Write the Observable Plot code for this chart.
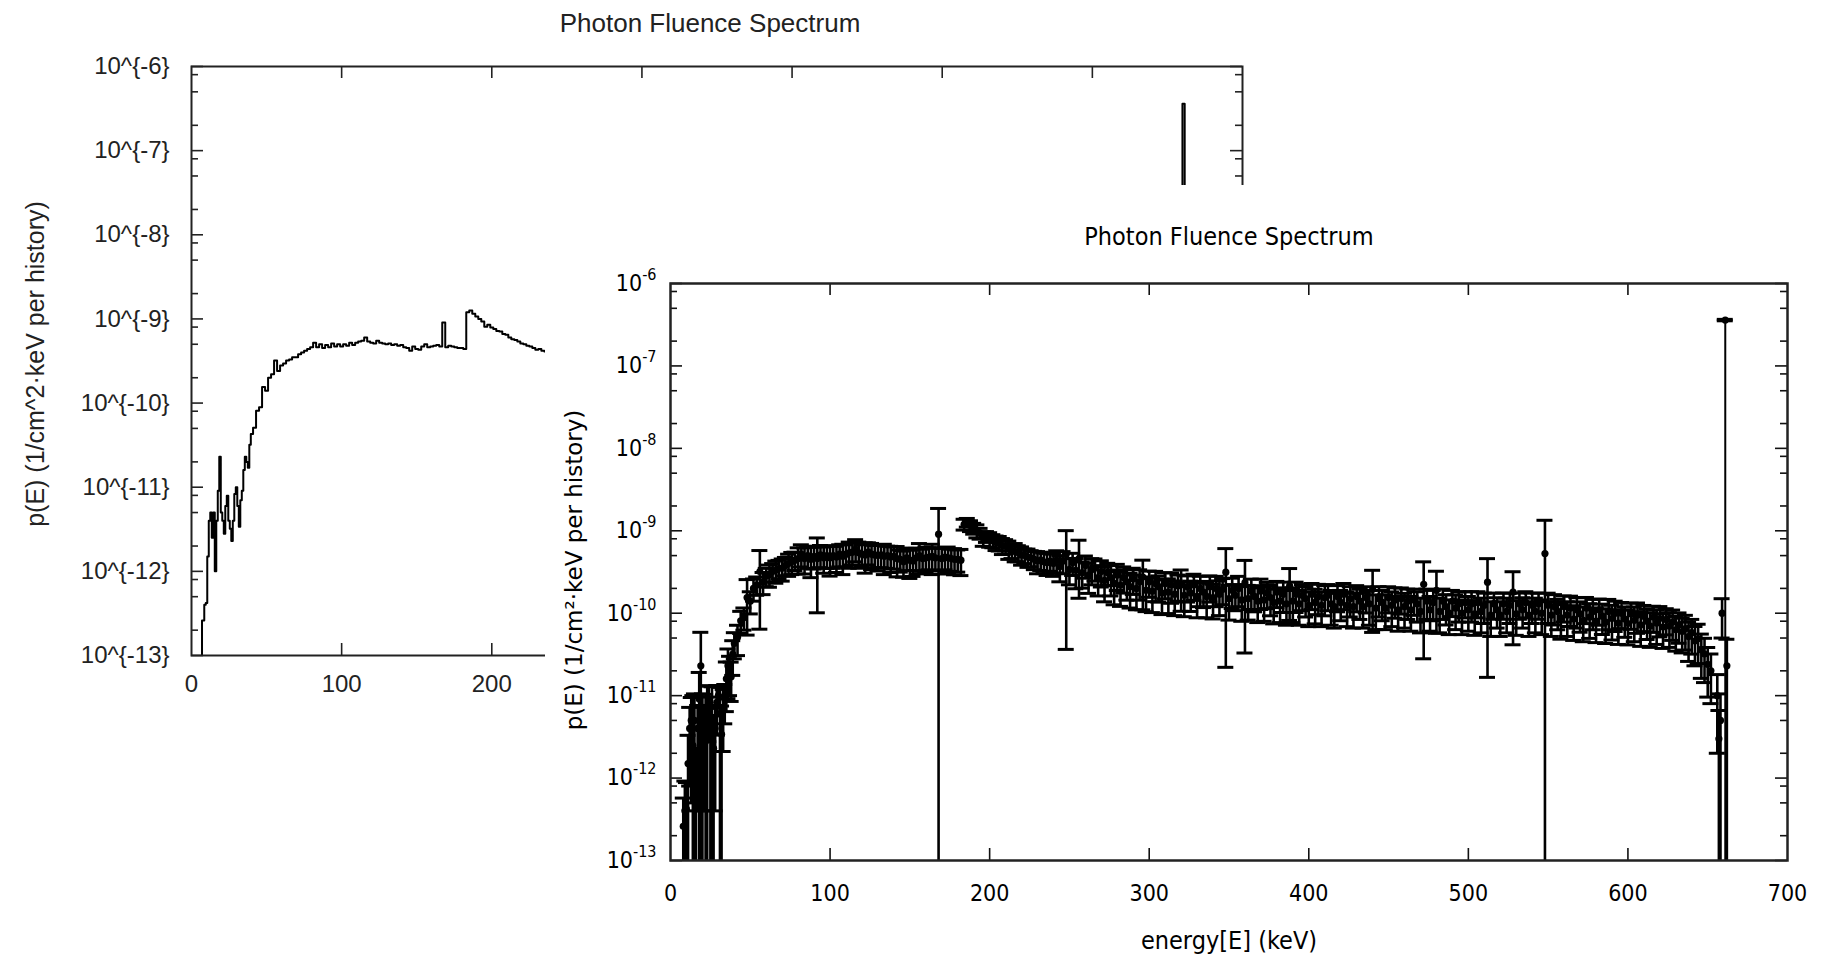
<!DOCTYPE html>
<html><head><meta charset="utf-8">
<script src="https://cdn.jsdelivr.net/npm/d3@7"></script>
<script src="https://cdn.jsdelivr.net/npm/@observablehq/plot@0.6"></script>
<style>
html,body{margin:0;padding:0;background:#fff;}
#stage{position:relative;width:1825px;height:958px;overflow:hidden;background:#fff;}
#back{position:absolute;left:0;top:0;}
#front{position:absolute;left:545px;top:185px;width:1280px;height:773px;background:#fff;}
#frontPlot{position:absolute;left:0;top:0;}
.t{position:absolute;white-space:nowrap;line-height:1;transform:translate(-50%,-50%);}
.rot{transform:translate(-50%,-50%) rotate(-90deg);}
.lib{font-family:'Liberation Sans',Arial,sans-serif;color:#222;}
.dvc{font-family:'DejaVu Sans Condensed','DejaVu Sans',sans-serif;color:#000;}
.dv{font-family:'DejaVu Sans',sans-serif;color:#000;}
</style></head>
<body>
<div id="stage">
  <div id="back"></div>
  <div class="t lib" id="backTitle" style="left:710px;top:23px;font-size:26px;"></div>
  <div class="t rot lib" id="backYLabel" style="left:35px;top:364px;font-size:25px;"></div>
  <div id="front">
    <div id="frontPlot"></div>
    <div class="t dvc" id="frontTitle" style="left:684px;top:51px;font-size:25px;"></div>
    <div class="t dvc" id="frontXLabel" style="left:684px;top:755px;font-size:25px;"></div>
    <div class="t rot dv" id="frontYLabel" style="left:29px;top:385px;font-size:23px;"></div>
  </div>
</div>
<script>
// ---------------- data ----------------
const titleText = "Photon Fluence Spectrum";
const backYLabelText = "p(E) (1/cm^2·keV per history)";
const frontYLabelText = "p(E) (1/cm²·keV per history)";
const frontXLabelText = "energy[E] (keV)";

const xTicks = [0, 100, 200, 300, 400, 500, 600, 700];
const backXTickLabels = [0, 100, 200]; // the rest are hidden behind the front window
const decades = [1e-13, 1e-12, 1e-11, 1e-10, 1e-9, 1e-8, 1e-7, 1e-6];
const backYTickLabels = ["10^{-13}", "10^{-12}", "10^{-11}", "10^{-10}", "10^{-9}", "10^{-8}", "10^{-7}", "10^{-6}"];
const frontYTickExponents = ["-13", "-12", "-11", "-10", "-9", "-8", "-7", "-6"];
const minorTicks = [2e-13, 5e-13, 8e-13, 2e-12, 5e-12, 8e-12, 2e-11, 5e-11, 8e-11,
  2e-10, 5e-10, 8e-10, 2e-9, 5e-9, 8e-9, 2e-8, 5e-8, 8e-8, 2e-7, 5e-7, 8e-7];

// energy bin (keV)
const energy = [6, 8, 9, 10, 11, 12, 13, 14, 15, 16, 17, 18, 19, 20, 21, 22, 23, 24, 25, 26, 27, 28, 29,
  30, 31, 32, 33, 34, 35, 36, 37, 38, 39, 40,
  42, 44, 46, 48, 50,
  52, 54, 56, 58, 60, 62, 64, 66, 68, 70, 72, 74, 76, 78, 80, 82, 84, 86, 88, 90, 92, 94, 96, 98, 100,
  102, 104, 106, 108, 110, 112, 114, 116, 118, 120, 122, 124, 126, 128, 130, 132, 134, 136, 138, 140,
  142, 144, 146, 148, 150, 152, 154, 156, 158, 160, 162, 164, 166, 168, 170, 172, 174, 176, 178, 180,
  182, 184, 186, 188, 190, 192, 194, 196, 198, 200, 202, 204, 206, 208, 210, 212, 214, 216, 218, 220,
  222, 224, 226, 228, 230, 232, 234, 236, 238, 240,
  242, 244, 246, 248, 250, 252, 254, 256, 258, 260, 262, 264, 266, 268, 270, 272, 274, 276, 278, 280,
  282, 284, 286, 288, 290, 292, 294, 296, 298, 300, 302, 304, 306, 308, 310, 312, 314, 316, 318, 320,
  322, 324, 326, 328, 330, 332, 334, 336, 338, 340, 342, 344, 346, 348, 350, 352, 354, 356, 358, 360,
  362, 364, 366, 368, 370, 372, 374, 376, 378, 380, 382, 384, 386, 388, 390, 392, 394, 396, 398, 400,
  402, 404, 406, 408, 410, 412, 414, 416, 418, 420, 422, 424, 426, 428, 430, 432, 434, 436, 438, 440,
  442, 444, 446, 448, 450, 452, 454, 456, 458, 460, 462, 464, 466, 468, 470, 472, 474, 476, 478, 480,
  482, 484, 486, 488, 490, 492, 494, 496, 498, 500, 502, 504, 506, 508, 510, 512, 514, 516, 518, 520,
  522, 524, 526, 528, 530, 532, 534, 536, 538, 540, 542, 544, 546, 548, 550, 552, 554, 556, 558, 560,
  562, 564, 566, 568, 570, 572, 574, 576, 578, 580, 582, 584, 586, 588, 590, 592, 594, 596, 598, 600,
  602, 604, 606, 608, 610, 612, 614, 616, 618, 620, 622, 624, 626, 628, 630, 632, 634, 636, 638, 640,
  642, 644, 646, 648, 650, 652,
  656, 657, 658, 659, 661, 662];

// fluence p(E)
const fluence = [1e-14, 2.6e-13, 4e-13, 4.2e-13, 1.5e-12, 4.0e-12, 5e-12, 2.5e-12, 5e-12, 1.0e-12, 4e-12,
  9.1e-12, 2.3e-11, 5e-12, 4e-12, 2.8e-12, 6e-12, 7.9e-12, 4e-12, 3.2e-12, 2.3e-12, 4e-12, 8.3e-12,
  1.0e-11, 6e-12, 3.4e-12, 7e-12, 9.1e-12, 1.6e-11, 2.3e-11, 2.0e-11, 1.7e-11, 3.2e-11, 4.3e-11,
  5.1e-11, 8.1e-11, 8.9e-11,
  1.55e-10, 1.4e-10, 2.0e-10, 2.2e-10, 3.2e-10, 2.4e-10, 2.8e-10, 2.95e-10, 3.2e-10, 3.3e-10, 3.5e-10,
  3.5e-10, 3.8e-10, 4.0e-10, 4.2e-10, 4.4e-10, 4.6e-10, 5.2e-10, 4.6e-10, 5.0e-10, 4.5e-10, 4.9e-10,
  4.6e-10, 5.1e-10, 4.7e-10, 5.0e-10, 4.7e-10, 5.0e-10, 4.8e-10, 5.2e-10, 4.9e-10, 5.2e-10, 5.4e-10,
  5.5e-10, 6.0e-10, 5.4e-10, 5.2e-10, 5.1e-10, 5.5e-10, 5.2e-10, 5.1e-10, 5.0e-10, 5.1e-10, 4.9e-10,
  5.0e-10, 4.8e-10, 4.9e-10, 4.6e-10, 4.5e-10, 4.2e-10, 4.7e-10, 4.4e-10, 4.3e-10, 4.7e-10, 5.0e-10,
  4.6e-10, 4.7e-10, 4.8e-10, 4.9e-10, 4.7e-10, 9.1e-10, 4.6e-10, 4.8e-10, 4.7e-10, 4.6e-10, 4.5e-10,
  4.5e-10, 4.4e-10, 1.2e-9, 1.26e-9, 1.15e-9, 1.07e-9, 1.0e-9, 9.3e-10, 8.1e-10, 8.5e-10, 7.9e-10,
  7.6e-10, 7.2e-10, 7.1e-10, 6.6e-10, 6.5e-10, 6.0e-10, 5.75e-10, 5.6e-10, 5.4e-10, 5.1e-10, 5.0e-10,
  4.8e-10, 4.7e-10, 4.5e-10, 4.3e-10, 4.4e-10, 4.2e-10, 4.1e-10, 4.3e-10, 4.0e-10,
  // 242 - 260
  4.4e-10, 3.7e-10, 4.3e-10, 5.2e-10, 3.4e-10, 4.1e-10, 3.3e-10, 4.6e-10, 3.1e-10, 3.8e-10,
  // 262 - 280
  2.9e-10, 3.4e-10, 3.5e-10, 2.7e-10, 3.2e-10, 2.5e-10, 3.1e-10, 2.7e-10, 2.3e-10, 2.9e-10,
  // 282 - 300
  2.2e-10, 2.7e-10, 2.4e-10, 2.1e-10, 2.6e-10, 2.0e-10, 2.4e-10, 2.75e-10, 1.9e-10, 2.4e-10,
  // 302 - 320
  1.85e-10, 2.3e-10, 2.1e-10, 1.75e-10, 2.3e-10, 1.8e-10, 2.2e-10, 1.7e-10, 2.15e-10, 2.2e-10,
  // 322 - 340
  1.65e-10, 2.1e-10, 1.75e-10, 2.2e-10, 1.6e-10, 2.0e-10, 1.8e-10, 1.6e-10, 2.1e-10, 1.55e-10,
  // 342 - 360
  2.0e-10, 1.7e-10, 1.95e-10, 3.15e-10, 1.5e-10, 1.9e-10, 1.65e-10, 2.0e-10, 1.45e-10, 2.35e-10,
  // 362 - 380
  1.5e-10, 1.85e-10, 1.6e-10, 1.4e-10, 1.85e-10, 1.45e-10, 1.75e-10, 1.55e-10, 1.35e-10, 1.8e-10,
  // 382 - 400
  1.4e-10, 1.7e-10, 1.3e-10, 2.15e-10, 1.4e-10, 1.7e-10, 1.3e-10, 1.65e-10, 1.5e-10, 1.25e-10,
  // 402 - 420
  1.7e-10, 1.35e-10, 1.6e-10, 1.25e-10, 1.55e-10, 1.65e-10, 1.3e-10, 1.2e-10, 1.6e-10, 1.35e-10,
  // 422 - 440
  1.7e-10, 1.25e-10, 1.5e-10, 1.2e-10, 1.6e-10, 1.4e-10, 1.2e-10, 1.55e-10, 1.3e-10, 1.95e-10,
  // 442 - 460
  1.15e-10, 1.5e-10, 1.35e-10, 1.15e-10, 1.55e-10, 1.25e-10, 1.45e-10, 1.1e-10, 1.5e-10, 1.2e-10,
  // 462 - 480
  1.4e-10, 1.1e-10, 1.45e-10, 1.3e-10, 1.05e-10, 2.24e-10, 1.4e-10, 1.1e-10, 1.35e-10, 1.9e-10,
  // 482 - 500
  1.05e-10, 1.4e-10, 1.2e-10, 1.0e-10, 1.4e-10, 1.15e-10, 1.3e-10, 1.0e-10, 1.35e-10, 1.1e-10,
  // 502 - 520
  1.3e-10, 9.8e-11, 1.35e-10, 1.05e-10, 1.25e-10, 2.38e-10, 9.5e-11, 1.3e-10, 1.1e-10, 9.5e-11,
  // 522 - 540
  1.3e-10, 1.05e-10, 1.25e-10, 1.8e-10, 9.8e-11, 1.3e-10, 1.1e-10, 1.35e-10, 9.5e-11, 1.25e-10,
  // 542 - 560
  1.05e-10, 1.3e-10, 1.0e-10, 5.3e-10, 1.25e-10, 9.5e-11, 1.2e-10, 1.05e-10, 8.8e-11, 1.2e-10,
  // 562 - 580
  9.5e-11, 1.15e-10, 8.5e-11, 1.1e-10, 9.8e-11, 8.2e-11, 1.15e-10, 9.0e-11, 1.05e-10, 8.0e-11,
  // 582 - 600
  1.1e-10, 9.2e-11, 7.8e-11, 1.05e-10, 8.6e-11, 1.0e-10, 7.6e-11, 1.0e-10, 8.5e-11, 7.5e-11,
  // 602 - 620
  9.8e-11, 8.2e-11, 9.5e-11, 7.2e-11, 9.2e-11, 8.0e-11, 7.0e-11, 9.0e-11, 7.6e-11, 8.6e-11,
  // 622 - 640
  6.8e-11, 8.4e-11, 7.0e-11, 7.8e-11, 6.3e-11, 7.2e-11, 6.0e-11, 6.5e-11, 5.2e-11, 5.8e-11,
  // 642 - 652
  4.6e-11, 4.9e-11, 3.6e-11, 3.2e-11, 2.4e-11, 2.0e-11,
  // 656 - 662
  1.0e-11, 3e-12, 5e-12, 1.0e-10, 3.6e-7, 2.3e-11];

// relative statistical error (sigma / p)
const relError = [1, 1.2, 1.3, 1.1, 1.2, 0.8, 0.9, 3, 1.1, 1.3, 0.9, 1.1, 1.55, 1.1, 0.9, 2.7, 1.2, 0.65,
  1.4, 3, 1.5, 0.9, 0.6, 0.3, 1.1, 1.2, 0.7, 0.5, 0.6, 0.6, 0.5, 0.5, 0.45, 0.35,
  0.4, 0.3, 0.3, 0.65, 0.3, 0.3, 0.25, 0.8, 0.3, 0.25, 0.3, 0.25, 0.3, 0.25, 0.3, 0.25, 0.3, 0.3, 0.25,
  0.35, 0.3, 0.35, 0.3, 0.4, 0.3, 0.78, 0.3, 0.35, 0.3, 0.4, 0.3, 0.35, 0.3, 0.4, 0.3, 0.35, 0.3, 0.3,
  0.35, 0.3, 0.4, 0.3, 0.35, 0.3, 0.35, 0.3, 0.4, 0.3, 0.35, 0.3, 0.4, 0.3, 0.35, 0.3, 0.4, 0.35, 0.3,
  0.4, 0.3, 0.35, 0.3, 0.4, 0.3, 1.05, 0.35, 0.3, 0.35, 0.3, 0.35, 0.3, 0.35, 0.15, 0.12, 0.15, 0.15,
  0.18, 0.15, 0.2, 0.15, 0.2, 0.18, 0.2, 0.2, 0.22, 0.2, 0.25, 0.2, 0.25, 0.22, 0.25, 0.2, 0.25, 0.22,
  0.25, 0.3, 0.25, 0.28, 0.3, 0.25, 0.3,
  // 242 - 260
  0.3, 0.35, 0.3, 0.93, 0.35, 0.3, 0.4, 0.67, 0.35, 0.3,
  // 262 - 280
  0.4, 0.35, 0.3, 0.4, 0.35, 0.45, 0.3, 0.4, 0.45, 0.35,
  // 282 - 300
  0.45, 0.35, 0.4, 0.45, 0.35, 0.45, 0.4, 0.6, 0.45, 0.35,
  // 302 - 320
  0.45, 0.4, 0.35, 0.45, 0.35, 0.45, 0.4, 0.45, 0.35, 0.52,
  // 322 - 340
  0.45, 0.35, 0.4, 0.35, 0.45, 0.4, 0.35, 0.45, 0.35, 0.45,
  // 342 - 360
  0.4, 0.45, 0.35, 0.93, 0.45, 0.4, 0.35, 0.4, 0.45, 0.86,
  // 362 - 380
  0.45, 0.4, 0.35, 0.45, 0.4, 0.45, 0.35, 0.4, 0.45, 0.35,
  // 382 - 400
  0.45, 0.4, 0.45, 0.62, 0.45, 0.4, 0.45, 0.35, 0.4, 0.45,
  // 402 - 420
  0.35, 0.45, 0.4, 0.45, 0.4, 0.35, 0.45, 0.45, 0.35, 0.4,
  // 422 - 440
  0.35, 0.45, 0.4, 0.45, 0.35, 0.4, 0.45, 0.35, 0.45, 0.7,
  // 442 - 460
  0.45, 0.4, 0.4, 0.45, 0.35, 0.45, 0.4, 0.45, 0.35, 0.45,
  // 462 - 480
  0.4, 0.45, 0.35, 0.4, 0.45, 0.875, 0.4, 0.45, 0.4, 0.7,
  // 482 - 500
  0.45, 0.4, 0.4, 0.45, 0.35, 0.45, 0.4, 0.45, 0.35, 0.45,
  // 502 - 520
  0.4, 0.45, 0.35, 0.45, 0.4, 0.93, 0.45, 0.35, 0.4, 0.45,
  // 522 - 540
  0.35, 0.45, 0.4, 0.77, 0.45, 0.35, 0.4, 0.35, 0.45, 0.4,
  // 542 - 560
  0.45, 0.35, 0.45, 1.53, 0.4, 0.45, 0.4, 0.4, 0.45, 0.35,
  // 562 - 580
  0.45, 0.4, 0.45, 0.4, 0.4, 0.45, 0.35, 0.45, 0.4, 0.45,
  // 582 - 600
  0.35, 0.4, 0.45, 0.4, 0.45, 0.4, 0.45, 0.35, 0.4, 0.45,
  // 602 - 620
  0.35, 0.45, 0.4, 0.45, 0.35, 0.4, 0.45, 0.35, 0.45, 0.4,
  // 622 - 640
  0.45, 0.35, 0.45, 0.4, 0.45, 0.4, 0.45, 0.45, 0.5, 0.45,
  // 642 - 652
  0.5, 0.5, 0.55, 0.55, 0.6, 0.6,
  // 656 - 662
  0.8, 1.2, 1.1, 0.5, 0.02, 1.1];

const peakEnergy = 661; // full-energy (uncollided) line

// ---------------- build ----------------
const n = Math.min(energy.length, fluence.length, relError.length);
const data = energy.slice(0, n).map((e, i) => ({E: e, P: fluence[i], R: relError[i]}));
const peak = data.filter(d => d.E === peakEnergy);
const Y0 = decades[0], Y1 = decades[decades.length - 1];
const belowAxis = Y0 / 10;
const backLabel = new Map(decades.map((d, i) => [d, backYTickLabels[i]]));
const frontExp = new Map(decades.map((d, i) => [d, frontYTickExponents[i]]));
const innerX = xTicks.filter(t => t > xTicks[0] && t < xTicks[xTicks.length - 1]);

function tickMarks(plotW, plotH, majorLen, minorLen, stroke, sw) {
  const kx = 700 / plotW;
  const ky = 7 / plotH;
  const up = len => Math.pow(10, len * ky);
  const o = {stroke, strokeWidth: sw};
  return [
    Plot.ruleY(decades, {y: d => d, x1: 0, x2: majorLen * kx, ...o}),
    Plot.ruleY(minorTicks, {y: d => d, x1: 0, x2: minorLen * kx, ...o}),
    Plot.ruleY(decades, {y: d => d, x1: 700 - majorLen * kx, x2: 700, ...o}),
    Plot.ruleY(minorTicks, {y: d => d, x1: 700 - minorLen * kx, x2: 700, ...o}),
    Plot.ruleX(innerX, {x: d => d, y1: Y0, y2: Y0 * up(majorLen), ...o}),
    Plot.ruleX(innerX, {x: d => d, y1: Y1 / up(majorLen), y2: Y1, ...o})
  ];
}

// back window (line histogram)
{
  const W = 1300, H = 720, mL = 191, mR = 58, mT = 66, mB = 65;
  const svg = Plot.plot({
    width: W, height: H, marginLeft: mL, marginRight: mR, marginTop: mT, marginBottom: mB,
    x: {domain: [0, 700], label: null},
    y: {type: "log", domain: [Y0, Y1], label: null},
    style: {fontFamily: "'Liberation Sans', Arial, sans-serif", fontSize: "24px", color: "#222", background: "transparent", overflow: "visible"},
    marks: [
      Plot.axisY(decades, {tickFormat: d => backLabel.get(d), tickSize: 0, tickPadding: 22, label: null, fontSize: 24}),
      Plot.axisX(backXTickLabels, {tickSize: 0, tickPadding: 19, label: null, fontSize: 24}),
      ...tickMarks(W - mL - mR, H - mT - mB, 12, 7, "#222", 1.6),
      Plot.line(data, {x: "E", y: "P", curve: "step", stroke: "#000", strokeWidth: 2, clip: true}),
      Plot.frame({stroke: "#222", strokeWidth: 2})
    ]
  });
  document.getElementById("back").appendChild(svg);
}

// front window (points with error bars)
{
  const W = 1280, H = 773, mL = 125, mR = 38, mT = 98, mB = 98;
  const plotW = W - mL - mR;
  const capHalf = 8 * 700 / plotW;
  const lo = d => d.R >= 1 ? belowAxis : d.P * (1 - d.R);
  const hi = d => d.P * (1 + d.R);
  const bar = {stroke: "#000", clip: true};
  const svg = Plot.plot({
    width: W, height: H, marginLeft: mL, marginRight: mR, marginTop: mT, marginBottom: mB,
    x: {domain: [0, 700], label: null},
    y: {type: "log", domain: [Y0, Y1], label: null},
    style: {fontFamily: "'DejaVu Sans Condensed', 'DejaVu Sans', sans-serif", fontSize: "23px", color: "#000", background: "transparent", overflow: "visible"},
    marks: [
      Plot.axisY(decades, {tickFormat: d => "10|" + frontExp.get(d), tickSize: 0, tickPadding: 14, label: null, fontSize: 23}),
      Plot.axisX(xTicks, {tickSize: 0, tickPadding: 24, label: null, fontSize: 23}),
      ...tickMarks(plotW, H - mT - mB, 12, 7, "#111", 1.6),
      Plot.ruleX(data, {x: "E", y1: lo, y2: hi, strokeWidth: 2.6, ...bar}),
      Plot.ruleY(data, {y: hi, x1: d => d.E - capHalf, x2: d => d.E + capHalf, strokeWidth: 3, ...bar}),
      Plot.ruleY(data.filter(d => d.R < 1), {y: lo, x1: d => d.E - capHalf, x2: d => d.E + capHalf, strokeWidth: 3, ...bar}),
      Plot.ruleX(peak, {x: "E", y1: belowAxis, y2: "P", strokeWidth: 2, ...bar}),
      Plot.dot(data, {x: "E", y: "P", r: 3.6, fill: "#000", stroke: null, clip: true}),
      Plot.frame({stroke: "#222", strokeWidth: 2.5})
    ]
  });
  // superscript exponents on y tick labels
  svg.querySelectorAll('g[aria-label="y-axis tick label"] text').forEach(t => {
    const s = t.textContent;
    if (s.indexOf("|") < 0) return;
    const [base, ex] = s.split("|");
    t.textContent = "";
    const ns = "http://www.w3.org/2000/svg";
    const a = document.createElementNS(ns, "tspan"); a.textContent = base; t.appendChild(a);
    const b = document.createElementNS(ns, "tspan"); b.textContent = ex;
    b.setAttribute("dy", "-11"); b.setAttribute("font-size", "16"); t.appendChild(b);
  });
  document.getElementById("frontPlot").appendChild(svg);
}

document.getElementById("backTitle").textContent = titleText;
document.getElementById("frontTitle").textContent = titleText;
document.getElementById("backYLabel").textContent = backYLabelText;
document.getElementById("frontYLabel").textContent = frontYLabelText;
document.getElementById("frontXLabel").textContent = frontXLabelText;
</script>
</body></html>
